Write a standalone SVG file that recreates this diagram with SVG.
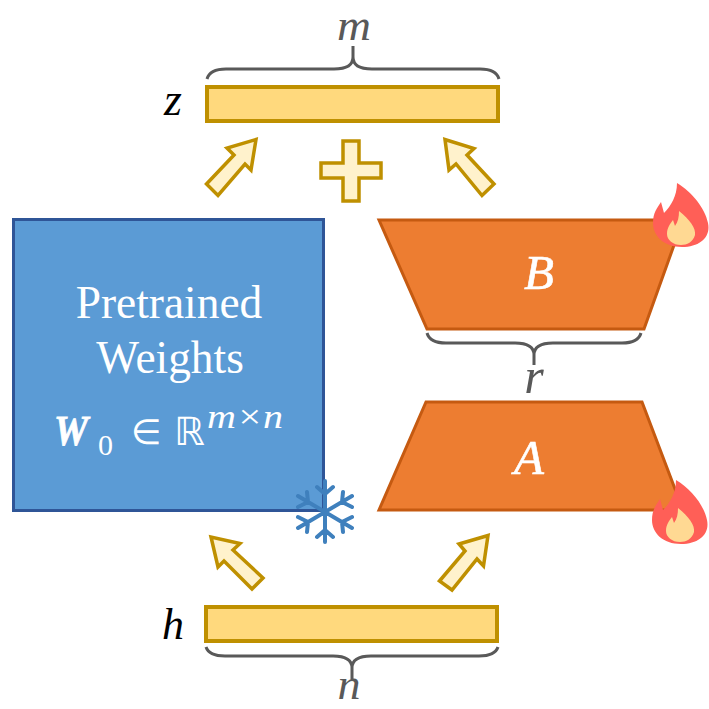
<svg xmlns="http://www.w3.org/2000/svg" width="709" height="709" viewBox="0 0 709 709">
<style>
.t{font-family:"Liberation Serif","DejaVu Serif",serif}
.d{font-family:"DejaVu Sans",sans-serif}
.i{font-style:italic}
.bar{fill:#ffd97d;stroke:#bf9000;stroke-width:4}
.arr{fill:#fff2cc;stroke:#bf9000;stroke-width:3.500;stroke-linejoin:miter}
.br{fill:none;stroke:#595959;stroke-width:3}
.trap{fill:#ed7d31;stroke:#c55a11;stroke-width:3}
.lab{fill:#595959}
.w{fill:#fff}
.fl{fill:#ff5f57}
.fi{fill:#ffd993}
.sf{fill:none;stroke:#3f80bd;stroke-width:4;stroke-linecap:round;stroke-linejoin:round}
</style>
<rect width="709" height="709" fill="#fff"/>
<g id="connectors">
<path class="arr" d="M206.500 184L234 155L227 148L256 139.500L251 170L245 164L218 195.500Z"/>
<path class="arr" d="M494 184L467 155L474 148.500L445 139.500L449 170L456 164L482 195.500Z"/>
<path class="arr" d="M263 578L233 550L240 543.500L211 537L218 567L224 561L252 589Z"/>
<path class="arr" d="M439.500 581L465 551L459 544L488 535.500L483.500 566L477 559L452 590Z"/>
<path class="br" d="M207 79C209 72 216 69 226 69H334C345 69 353 66 353 57V46M353 57C353 66 361 69 372 69H480C490 69 497 72 499 79"/>
<path class="br" d="M427 333C429 340 436 343 446 343H515C526 343 534 346 534 355V365M534 355C534 346 542 343 553 343H622C632 343 639 340 641 333"/>
<path class="br" d="M206 647C208 653 215 656 225 656H333C344 656 352 659 352 668V679M352 668C352 659 360 656 371 656H479C489 656 496 653 498 647"/>
</g>
<g id="plus"><path class="arr" d="M343 141H359V163H381V178H359V201H343V178H321V163H343Z"/></g>
<g id="z"><rect class="bar" x="207" y="87" width="291" height="34"/>
<text class="t i" x="173" y="115" font-size="46" text-anchor="middle">z</text>
<text class="t i lab" x="354" y="40" text-anchor="middle" font-size="44" textLength="34" lengthAdjust="spacingAndGlyphs">m</text></g>
<g id="h"><rect class="bar" x="206" y="607" width="291" height="34"/>
<text class="t i" x="173" y="639" font-size="44" text-anchor="middle">h</text>
<text class="t i lab" x="349" y="699" text-anchor="middle" font-size="44" textLength="23" lengthAdjust="spacingAndGlyphs">n</text></g>
<g id="weights"><rect x="13.500" y="219.500" width="310" height="291" fill="#5b9bd5" stroke="#2f5597" stroke-width="3"/>
<text class="t w" x="169" y="318" font-size="45.400" text-anchor="middle">Pretrained</text>
<text class="t w" x="170" y="373" font-size="45.400" text-anchor="middle">Weights</text>
<text class="t w i" x="54" y="445" font-size="42" font-weight="bold" textLength="34" lengthAdjust="spacingAndGlyphs" stroke="#fff" stroke-width="0.800">W</text>
<text class="t w" x="98" y="455" font-size="30">0</text>
<text class="d w" x="131" y="444" font-size="35">∈</text>
<text class="d w" x="174" y="445" font-size="39">ℝ</text>
<text class="t w i" x="207" y="428" font-size="34" textLength="76" lengthAdjust="spacingAndGlyphs">m×n</text></g>
<g id="B"><path class="trap" d="M379 220H683L644 329H427Z"/>
<text class="t w i" x="539" y="289" font-size="49" text-anchor="middle" stroke="#fff" stroke-width="0.600">B</text></g>
<g id="A"><path class="trap" d="M426 402H642L683 510H379Z"/>
<text class="t w i" x="529" y="474" font-size="49" text-anchor="middle" stroke="#fff" stroke-width="0.600">A</text></g>
<g id="r"><text class="t i lab" x="534" y="393" text-anchor="middle" font-size="50">r</text></g>
<g id="flame-b"><path class="fl" d="M677 183C692 192 705 208 708 223C711 237 700 247 682 247C664 247 653 236 653 223C653 213 657 208 661 202L664 213C671 206 677 196 677 183Z"/>
<path class="fi" d="M679 211C690 220 696 228 695 235C693 242 687 245 681 245C673 245 667 240 667 234C667 228 670 224 673 220L675 226C678 222 679 217 679 211Z"/></g>
<g id="flame-a" transform="translate(-1,297)"><path class="fl" d="M677 183C692 192 705 208 708 223C711 237 700 247 682 247C664 247 653 236 653 223C653 213 657 208 661 202L664 213C671 206 677 196 677 183Z"/>
<path class="fi" d="M679 211C690 220 696 228 695 235C693 242 687 245 681 245C673 245 667 240 667 234C667 228 670 224 673 220L675 226C678 222 679 217 679 211Z"/></g>
<g id="snowflake"><path class="sf" d="M325 481V542M298 496L352 528M298 528L352 496M317 487L325 494L333 487M317 537L325 530L333 537M307 492L308 502L298 507M343 492L342 502L352 507M307 532L308 522L298 517M343 532L342 522L352 517"/></g>
</svg>
